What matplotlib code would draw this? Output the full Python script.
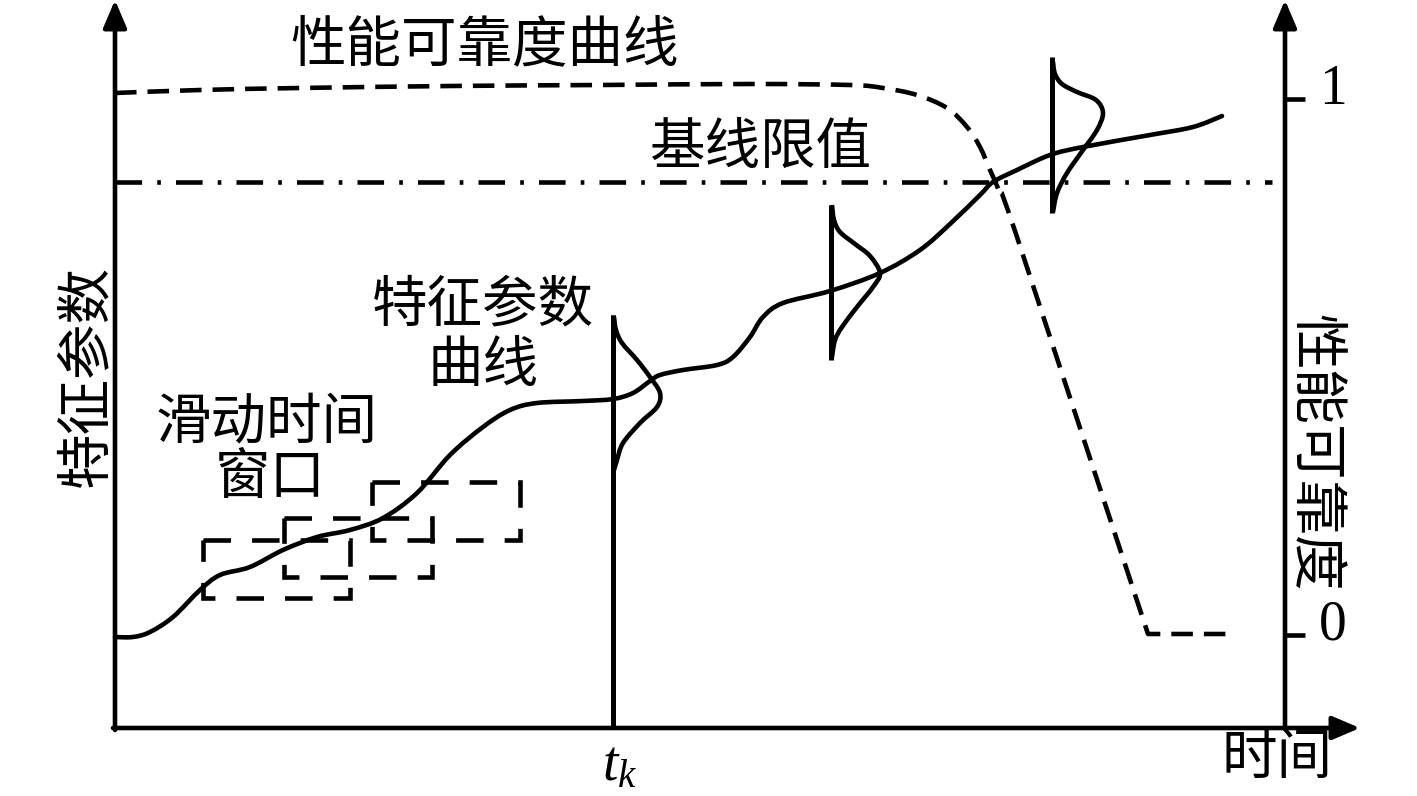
import matplotlib.pyplot as plt
import numpy as np
from matplotlib.patches import Rectangle, PathPatch
from matplotlib.path import Path

plt.rcParams['font.family'] = ['Noto Sans CJK SC', 'DejaVu Sans']
plt.rcParams['mathtext.fontset'] = 'custom'
plt.rcParams['mathtext.it'] = 'Liberation Serif:italic'
plt.rcParams['mathtext.rm'] = 'Liberation Serif'

# drawing units: x = time, y = height measured downwards (same scale as the image)
axis_left = 115
axis_right = 1285
axis_bottom = 728
axis_top = 0
x_arrow_end = 1360

# feature parameter curve
feat_t = [115, 133, 150, 173, 200, 220, 250, 283, 317, 350, 383, 417, 450,
          483, 510, 537, 583, 613, 633, 650, 660, 683, 717, 733, 750, 763,
          783, 830, 880, 920, 950, 980, 993, 1017, 1050, 1083, 1150, 1193, 1222]
feat_v = [637, 637, 632, 617, 590, 575, 567, 550, 537, 530, 518, 493, 455,
          427, 410, 403, 401, 399, 393, 381, 375, 370, 365, 357, 337, 317,
          303, 291, 273, 250, 224, 195, 182, 170, 155, 147, 135, 127, 116]

# performance reliability curve (last two points are joined by straight lines)
rel_t = [115, 200, 300, 450, 600, 750, 850, 883, 917, 947, 967, 980, 990,
         1000, 1017, 1148, 1230]
rel_v = [93, 90, 88, 86, 85, 84, 85, 88, 95, 108, 127, 147, 170,
         193, 237, 634, 634]
rel_n_curved = 15

# baseline limit
base_v = 182
base_t = [115, 1272]

# t_k marker
tk_t = 613
tk_top = 315

# distributions (vertical line + bell)
dist_t = [613, 831, 1052]
dist_top = [315, 205, 57]
dist_bottom = [472, 360, 213]
bell1_t = [614, 616, 622, 637, 650, 660, 657, 640, 623, 617, 614]
bell1_v = [317, 330, 343, 360, 377, 393, 407, 423, 443, 460, 470]
bell2_t = [832, 834, 840, 855, 870, 880, 873, 857, 842, 835, 832]
bell2_v = [205, 220, 232, 244, 256, 273, 287, 307, 327, 340, 357]
bell3_t = [1053, 1055, 1062, 1077, 1096, 1103, 1097, 1083, 1067, 1057, 1053]
bell3_v = [62, 74, 84, 92, 100, 113, 130, 150, 173, 193, 212]

# sliding windows
win_t0 = [203, 284, 372]
win_t1 = [350, 432, 520]
win_v0 = [540, 518, 482]
win_v1 = [598, 577, 540]

# right axis ticks
rel_tick_v = [99, 635]
rel_tick_labels = ['1', '0']


def smooth_path(xs, ys, n_curved=None):
    # Catmull-Rom through the given points, drawn as cubic Bezier segments
    p = np.column_stack([xs, ys]).astype(float)
    n = len(p) if n_curved is None else n_curved
    verts = [p[0]]
    codes = [Path.MOVETO]
    for i in range(n - 1):
        p0 = p[i - 1] if i > 0 else p[i]
        p3 = p[i + 2] if i + 2 < len(p) else p[i + 1]
        c1 = p[i] + (p[i + 1] - p0) / 6
        c2 = p[i + 1] - (p3 - p[i]) / 6
        verts += [c1, c2, p[i + 1]]
        codes += [Path.CURVE4] * 3
    for i in range(n, len(p)):
        verts.append(p[i])
        codes.append(Path.LINETO)
    return Path(verts, codes)


fig = plt.figure(figsize=(14.17, 7.96), dpi=100)
ax = fig.add_axes([0, 0, 1, 1])
ax.set_xlim(0, 1417)
ax.set_ylim(796, 0)
ax.axis('off')

lw = 3.3
fs = 40

# axes with arrows
arrow = dict(arrowstyle='-|>,head_length=0.4,head_width=0.17', lw=lw,
             color='black', shrinkA=0, shrinkB=0, mutation_scale=42)
ax.annotate('', xy=(axis_left, axis_top), xytext=(axis_left, axis_bottom + 2),
            arrowprops=arrow)
ax.annotate('', xy=(axis_right, axis_top), xytext=(axis_right, axis_bottom),
            arrowprops=arrow)
ax.annotate('', xy=(x_arrow_end, axis_bottom), xytext=(axis_left - 2, axis_bottom),
            arrowprops=arrow)

# right axis ticks
for v, lab in zip(rel_tick_v, rel_tick_labels):
    ax.plot([axis_right, axis_right + 20], [v, v], color='black', lw=lw,
            solid_capstyle='butt')
    ax.text(axis_right + 48, v - 9, lab, fontsize=fs, family='Liberation Serif',
            ha='center', va='center')

# baseline (dash-dot)
ax.plot(base_t, [base_v, base_v], color='black', lw=lw,
        dashes=(5.8, 3.3, 0.8, 3.3), dash_capstyle='butt')

# reliability curve (dashed)
ax.add_patch(PathPatch(smooth_path(rel_t, rel_v, rel_n_curved), fill=False,
                       edgecolor='black', lw=lw, linestyle=(0, (4.7, 2.4)),
                       capstyle='butt', joinstyle='round'))

# feature curve
ax.add_patch(PathPatch(smooth_path(feat_t, feat_v), fill=False,
                       edgecolor='black', lw=lw, capstyle='round',
                       joinstyle='round'))

# t_k line
ax.plot([tk_t, tk_t], [tk_top, axis_bottom], color='black', lw=lw + 0.3,
        solid_capstyle='butt')

# distributions
for t, top, bot in zip(dist_t, dist_top, dist_bottom):
    ax.plot([t, t], [top, bot], color='black', lw=lw + 0.3, solid_capstyle='butt')
for bt, bv in [(bell1_t, bell1_v), (bell2_t, bell2_v), (bell3_t, bell3_v)]:
    ax.add_patch(PathPatch(smooth_path(bt, bv), fill=False, edgecolor='black',
                           lw=lw, joinstyle='round'))

# sliding windows
for t0, t1, v0, v1 in zip(win_t0, win_t1, win_v0, win_v1):
    ax.add_patch(Rectangle((t0, v0), t1 - t0, v1 - v0, fill=False,
                           edgecolor='black', lw=lw, linestyle=(0, (6, 4.6))))

# texts
ax.text(485, 46, '性能可靠度曲线', fontsize=fs, ha='center', va='center')
ax.text(760, 148, '基线限值', fontsize=fs, ha='center', va='center')
ax.text(483, 306, '特征参数', fontsize=fs, ha='center', va='center')
ax.text(483, 366, '曲线', fontsize=fs, ha='center', va='center')
ax.text(267, 424, '滑动时间', fontsize=fs, ha='center', va='center')
ax.text(270, 478, '窗口', fontsize=fs, ha='center', va='center')
ax.text(87, 376, '特征参数', fontsize=fs, ha='center', va='center', rotation=90)
ax.text(1315, 453, '性能可靠度', fontsize=fs, ha='center', va='center', rotation=-90)
ax.text(1277, 758, '时间', fontsize=fs, ha='center', va='center')
ax.text(620, 764, '$t_k$', fontsize=fs, ha='center', va='center')

fig.savefig('out.png', dpi=100)
